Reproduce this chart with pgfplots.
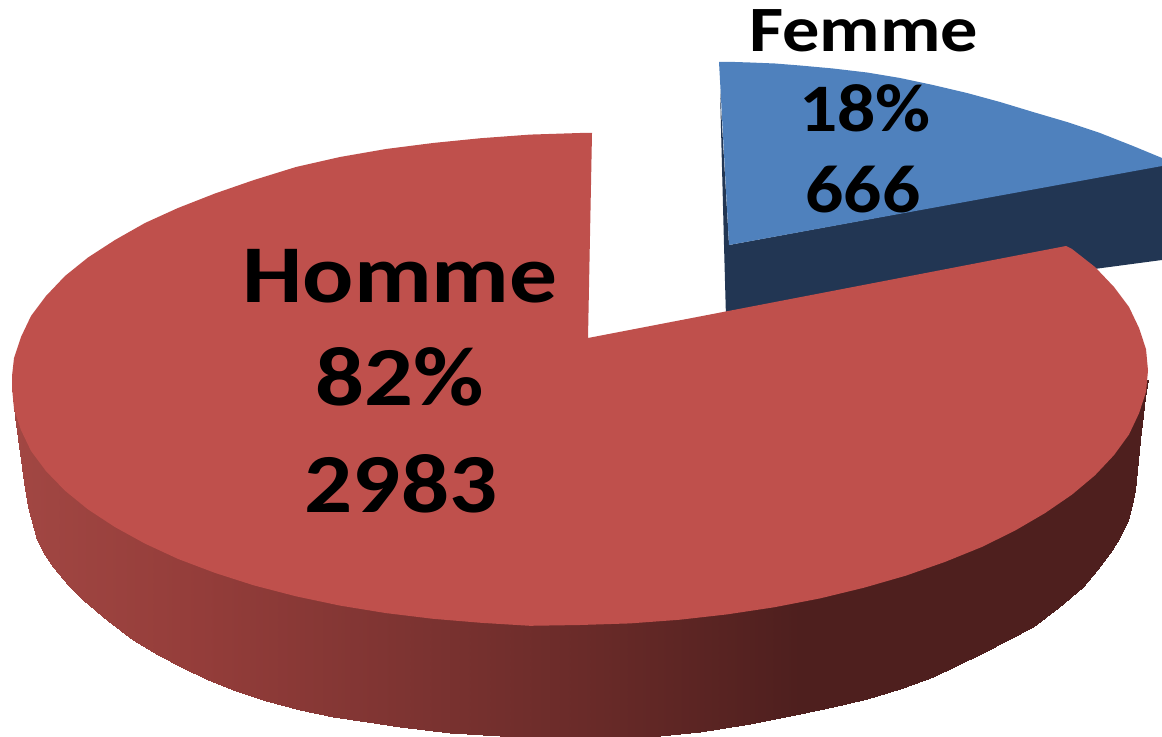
\documentclass[border=0pt]{standalone}
\usepackage{graphicx}
\usepackage{fontspec}
\setmainfont{Carlito}
\usepackage{pgfplots}
\pgfplotsset{compat=1.18}
\definecolor{pieblue}{HTML}{4F81BD}
\definecolor{piered}{HTML}{BF504C}
\definecolor{pienavy}{HTML}{223653}
\newcommand{\lab}[3]{\scalebox{#1}[1]{\fontsize{#2}{#2}\selectfont\bfseries #3}}
\begin{document}
\begin{tikzpicture}
\begin{axis}[scale only axis,width=871.5pt,height=552.75pt,xmin=0,xmax=1162,ymin=0,ymax=737,y dir=reverse,hide axis,
 colormap={side}{rgb255(12)=(162,71,67); rgb255(200)=(148,61,58); rgb255(400)=(126,52,50); rgb255(600)=(104,42,40); rgb255(800)=(78,31,30); rgb255(1148)=(78,31,30)}]
\path (axis cs:0,0) rectangle (axis cs:1162,737);
% Femme: side
\addplot[draw=none,fill=pienavy] coordinates {(720,90) (724,245) (726,318) (1162,260) (1162,165) (729,245)} --cycle;
% Femme: top
\addplot[draw=none,fill=pieblue] coordinates {(719,62) (735,62) (750,62.5) (775,63.5) (800,65.5) (833,68.5) (867,72.5) (900,78) (933,85) (967,93) (1000,102) (1033,112) (1067,122) (1100,133) (1133,146) (1162,158) (1162,166) (729,245)} --cycle;
% Homme: side
\addplot[surf,shader=interp,mesh/rows=2,mesh/cols=50,point meta=x] coordinates {
(12,380) (15,380) (20,380) (24,380) (28,380) (37,380) (45,380) (53,380) (68,380) (83,380)
(108,380) (133,380) (158,380) (183,380) (208,380) (233,380) (266,380) (300,380) (333,380) (367,380)
(400,380) (450,380) (500,380) (550,380) (600,380) (650,380) (700,380) (750,380) (800,380) (833,380)
(867,380) (900,380) (933,380) (958,380) (983,380) (1008,380) (1033,380) (1058,380) (1083,380) (1097,380)
(1110,380) (1120,380) (1128,380) (1132,380) (1135,380) (1138,380) (1140,380) (1143,380) (1145,380) (1148,380)

(12,387) (15,417) (20,453) (24,482) (28,507) (37,540) (45,555) (53,567) (68,585) (83,600)
(108,621) (133,640) (158,655) (183,668) (208,680) (233,690) (266,701) (300,710) (333,717) (367,722)
(400,727) (450,733) (500,736) (550,737) (600,737) (650,736.5) (700,732) (750,724) (800,714) (833,707)
(867,699) (900,689) (933,677) (958,665) (983,653) (1008,640) (1033,627) (1058,608) (1083,587) (1097,570)
(1110,553) (1120,537) (1128,520) (1132,505) (1135,490) (1138,460) (1140,440) (1143,415) (1145,397) (1148,380)
};
% Homme: top
\addplot[draw=none,fill=piered] coordinates {
(588,338) (1066,246) (1072,249) (1095,267) (1114,287) (1129,307) (1139,328) (1146,349.1) (1148,370.5)
(1146,391.9) (1139,413.3) (1129,434.5) (1114,455.1) (1095,475.3) (1072,494.6) (1045,513.1) (1015,530.6) (982,546.9)
(945,561.9) (906,575.6) (864,587.7) (820,598.4) (774,607.3) (727,614.4) (679,619.8) (630,623.4) (580,625)
(530,625.8) (481,622.8) (433,618.8) (386,613.1) (340,605.6) (296,596.3) (254,585.4) (215,572.9) (178,558.9)
(145,543.6) (115,527.1) (88,509.4) (65,490.7) (46,471.1) (31,450.9) (21,430.1) (14,408.9) (12,387.5) (12,376)
(14,358) (21,337) (31,316) (46,296) (65,276) (88,257.5) (115,240) (145,223) (178,208)
(215,193.5) (254,180) (296,167) (340,157) (386,149) (433,143) (481,138.2) (530,134.6) (580,133) (592,133)
} --cycle;
\node[anchor=base] at (axis cs:863.5,52) {\lab{1.15}{48.5pt}{Femme}};
\node[anchor=base] at (axis cs:865,132) {\lab{1.11}{51pt}{18\%}};
\node[anchor=base] at (axis cs:863,213) {\lab{1.11}{51pt}{666}};
\node[anchor=base] at (axis cs:400,303) {\lab{1.165}{61.5pt}{Homme}};
\node[anchor=base] at (axis cs:400,405) {\lab{1.15}{63pt}{82\%}};
\node[anchor=base] at (axis cs:401,512) {\lab{1.13}{63pt}{2983}};
\end{axis}
\end{tikzpicture}
\end{document}
